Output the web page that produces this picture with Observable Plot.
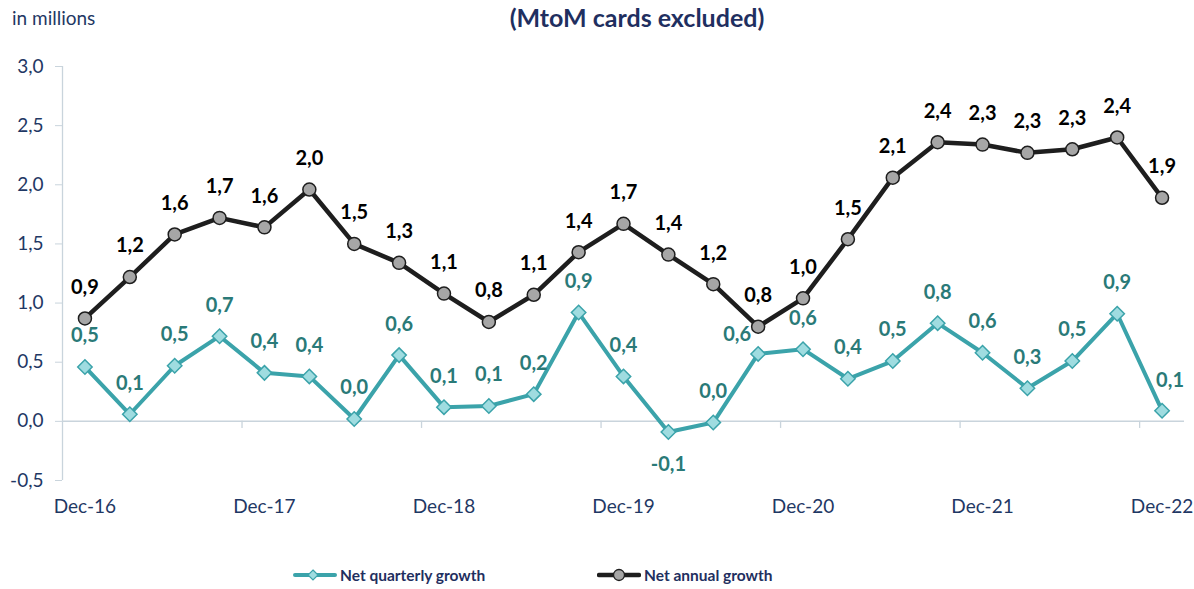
<!DOCTYPE html>
<html><head><meta charset="utf-8">
<script src="https://cdn.jsdelivr.net/npm/d3@7"></script>
<script src="https://cdn.jsdelivr.net/npm/@observablehq/plot@0.6"></script>
<style>
body{margin:0;background:#fff;font-family:Lato,"Open Sans",sans-serif;}
#wrap{position:relative;width:1194px;height:589px;overflow:hidden}
.note{position:absolute;left:12px;top:6px;font-size:19px;color:#1F3864}
.title{position:absolute;left:637px;top:2px;transform:translateX(-50%);font-size:25px;font-weight:bold;color:#1F2F60;white-space:nowrap}
.leg{position:absolute;top:566px;display:flex;align-items:center;font-size:15.5px;font-weight:bold;color:#1F2F60;white-space:nowrap}
.leg svg{margin-right:3px}
#chart{position:absolute;left:0;top:0}
</style></head>
<body><div id="wrap">
<div id="chart"></div>
<div class="note">in millions</div>
<div class="title">(MtoM cards excluded)</div>
<div class="leg" style="left:293px"><svg width="44" height="16"><line x1="2" y1="8" x2="42" y2="8" stroke="#3BA3AA" stroke-width="4" stroke-linecap="round"/><path d="M20 3 L25 8 L20 13 L15 8 Z" fill="#9FDCE0" stroke="#3BA3AA" stroke-width="1.2"/></svg>Net quarterly growth</div>
<div class="leg" style="left:597px"><svg width="44" height="16"><line x1="2" y1="8" x2="42" y2="8" stroke="#1E1E1E" stroke-width="4.5" stroke-linecap="round"/><circle cx="22" cy="8" r="5.5" fill="#A6A6A6" stroke="#1E1E1E" stroke-width="1.3"/></svg>Net annual growth</div>
</div>
<script>
const quarters = ["Dec-16","Mar-17","Jun-17","Sep-17","Dec-17","Mar-18","Jun-18","Sep-18","Dec-18","Mar-19","Jun-19","Sep-19","Dec-19","Mar-20","Jun-20","Sep-20","Dec-20","Mar-21","Jun-21","Sep-21","Dec-21","Mar-22","Jun-22","Sep-22","Dec-22"];
const quarterlyGrowth = [0.46,0.06,0.47,0.72,0.41,0.38,0.02,0.56,0.12,0.13,0.23,0.92,0.38,-0.09,-0.01,0.57,0.61,0.36,0.51,0.83,0.58,0.28,0.51,0.91,0.09];
const annualGrowth = [0.87,1.22,1.58,1.72,1.64,1.96,1.50,1.34,1.08,0.84,1.07,1.43,1.67,1.41,1.16,0.80,1.04,1.54,2.06,2.36,2.34,2.27,2.30,2.40,1.89];
const yTicks = [-0.5,0,0.5,1,1.5,2,2.5,3];

const data = quarters.map((q, i) => ({i, q, quarterly: quarterlyGrowth[i], annual: annualGrowth[i]}));
const fmt = v => (Math.abs(v) < 0.05 ? "0.0" : v.toFixed(1)).replace(".", ",");
const labelIdx = quarters.map((q, i) => i).filter(i => quarters[i].startsWith("Dec"));
const boundaries = labelIdx.slice(1).map(i => i - 0.5);

const navy = "#1F3864", axisGray = "#C9D4DC", teal = "#3BA3AA", tealText = "#2A7A78";
const qLeft = [15], qRight = [24];
const isNeg = d => d.quarterly <= -0.05;
const lbl = {fontWeight: "bold", fontSize: 20};

const plot = Plot.plot({
  width: 1194, height: 589,
  marginLeft: 62, marginRight: 10, marginTop: 66, marginBottom: 109,
  style: {fontFamily: "Lato, 'Open Sans', sans-serif", background: "white"},
  x: {type: "linear", domain: [-0.5, quarters.length - 0.5], axis: null},
  y: {domain: [-0.5, 3], axis: null},
  marks: [
    Plot.ruleX([-0.5], {y1: -0.5, y2: 3, stroke: axisGray, strokeWidth: 1.3}),
    Plot.ruleY([0], {stroke: axisGray, strokeWidth: 1.5}),
    Plot.ruleX(boundaries, {x: d => d, y1: 0, y2: -0.06, stroke: axisGray, strokeWidth: 1.3}),
    Plot.axisY({ticks: yTicks, tickSize: 7, tickFormat: () => "", stroke: axisGray, label: null}),
    Plot.axisY({ticks: yTicks, tickSize: 0, tickPadding: 19, tickFormat: d => d.toFixed(1).replace(".", ","), fill: navy, fontSize: 19, label: null}),
    Plot.axisX({ticks: labelIdx, tickSize: 0, tickPadding: 19, tickFormat: i => quarters[i], fill: navy, fontSize: 19, label: null}),
    Plot.line(data, {x: "i", y: "annual", stroke: "#1E1E1E", strokeWidth: 4.5, strokeLinejoin: "round"}),
    Plot.line(data, {x: "i", y: "quarterly", stroke: teal, strokeWidth: 4, strokeLinejoin: "round"}),
    Plot.dot(data, {x: "i", y: "annual", r: 6.5, fill: "#A6A6A6", stroke: "#1E1E1E", strokeWidth: 1.5}),
    Plot.dot(data, {x: "i", y: "quarterly", symbol: "diamond2", r: 6.5, fill: "#9FDCE0", stroke: teal, strokeWidth: 1.5}),
    Plot.text(data, {x: "i", y: "annual", text: d => fmt(d.annual), dy: -31, fill: "#000", ...lbl}),
    Plot.text(data.filter(d => !isNeg(d) && !qLeft.includes(d.i) && !qRight.includes(d.i)), {x: "i", y: "quarterly", text: d => fmt(d.quarterly), dy: -31, fill: tealText, ...lbl}),
    Plot.text(data.filter(d => qLeft.includes(d.i)), {x: "i", y: "quarterly", text: d => fmt(d.quarterly), dy: -19, dx: -21, fill: tealText, ...lbl}),
    Plot.text(data.filter(d => qRight.includes(d.i)), {x: "i", y: "quarterly", text: d => fmt(d.quarterly), dy: -30, dx: 8, fill: tealText, ...lbl}),
    Plot.text(data.filter(isNeg), {x: "i", y: "quarterly", text: d => fmt(d.quarterly), dy: 33, fill: tealText, ...lbl})
  ]
});
document.getElementById("chart").appendChild(plot);
</script>
</body></html>
